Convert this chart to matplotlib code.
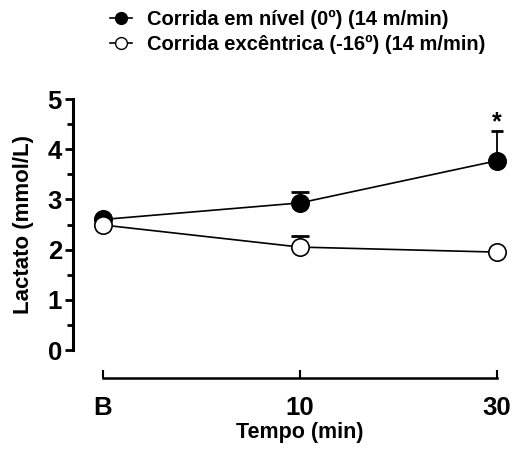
import numpy as np
import matplotlib.pyplot as plt
from matplotlib.lines import Line2D
from matplotlib.ticker import MultipleLocator

plt.rcParams['font.family'] = ['Liberation Sans', 'DejaVu Sans']
plt.rcParams['font.weight'] = 'bold'

# Data #
tempo = ["B", "10", "30"]
nivel = [2.60, 2.93, 3.77]
nivel_err = [0.0, 0.22, 0.59]
excentrica = [2.49, 2.05, 1.95]
excentrica_err = [0.0, 0.22, 0.0]

x = np.arange(len(tempo))
caps = [6.5, 6.5, 4.0]

# Plotting #
fig = plt.figure(figsize=(5.13, 4.49), dpi=100)
ax = fig.add_axes([73 / 513, 1 - 350 / 449, (497 - 73) / 513, (350 - 99) / 449])

for xi, yi, ei, cs in zip(x, nivel, nivel_err, caps):
    if ei > 0:
        ax.errorbar(xi, yi, yerr=[[0], [ei]], fmt="none", ecolor="black",
                    elinewidth=1.3, capsize=cs, capthick=2, zorder=1, clip_on=False)
for xi, yi, ei, cs in zip(x, excentrica, excentrica_err, caps):
    if ei > 0:
        ax.errorbar(xi, yi, yerr=[[0], [ei]], fmt="none", ecolor="black",
                    elinewidth=1.3, capsize=cs, capthick=2, zorder=1, clip_on=False)

ax.plot(x, nivel, color="black", lw=1.2, marker="o", ms=12.5, mfc="black",
        mec="black", mew=1.2, zorder=2, clip_on=False)
ax.plot(x, excentrica, color="black", lw=1.2, marker="o", ms=12.5, mfc="white",
        mec="black", mew=1.2, zorder=3, clip_on=False)

ax.text(x[2], nivel[2] + nivel_err[2] - 0.06, "*", ha="center", va="bottom",
        fontsize=18, fontweight="bold")

ax.set_xlim(-0.152, 2.0)
ax.set_ylim(0, 5)

for side in ["top", "right"]:
    ax.spines[side].set_visible(False)
ax.spines["left"].set_linewidth(2.2)
ax.spines["bottom"].set_linewidth(1.8)
ax.spines["bottom"].set_position(("outward", 20))
ax.spines["bottom"].set_bounds(0, 2)

ax.set_xticks(x)
ax.set_xticklabels(tempo)
ax.yaxis.set_major_locator(MultipleLocator(1))
ax.yaxis.set_minor_locator(MultipleLocator(0.5))
ax.tick_params(axis="y", which="major", direction="out", length=6, width=2,
               labelsize=18.5, pad=2)
ax.tick_params(axis="y", which="minor", direction="out", length=4, width=2)
ax.tick_params(axis="x", direction="in", length=6, width=1.5, labelsize=18.5, pad=13)

ax.set_ylabel("Lactato (mmol/L)", fontsize=16, fontweight="bold", labelpad=9.5)
ax.set_xlabel("Tempo (min)", fontsize=15.5, fontweight="bold", labelpad=0)
ax.xaxis.set_label_coords(0.535, -0.285)

handles = [
    Line2D([], [], color="black", lw=1.2, marker="o", ms=8.5, mfc="black", mec="black"),
    Line2D([], [], color="black", lw=1.2, marker="o", ms=8.5, mfc="white", mec="black"),
]
labels = ["Corrida em nível (0º) (14 m/min)", "Corrida excêntrica (-16º) (14 m/min)"]
fig.legend(handles, labels, loc="upper left",
           bbox_to_anchor=(110 / 513, 1 - 10 / 449), frameon=False,
           fontsize=14.5, handlelength=1.1, labelspacing=0.3,
           handletextpad=0.75, borderpad=0, borderaxespad=0)

fig.savefig("out.png", dpi=100)
